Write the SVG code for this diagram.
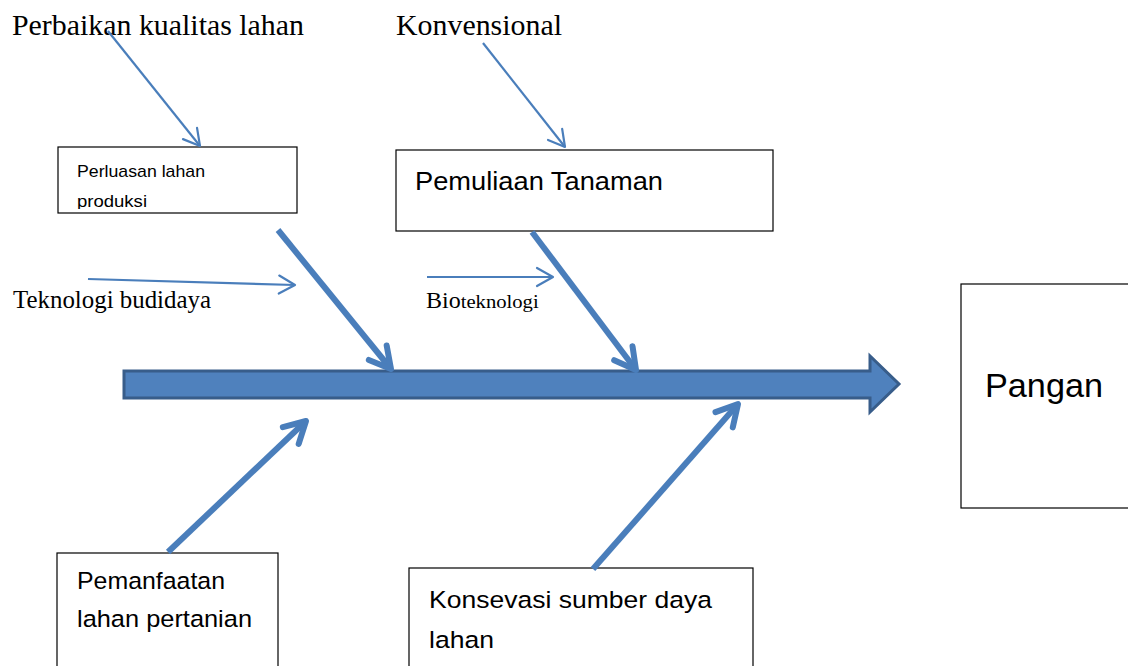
<svg xmlns="http://www.w3.org/2000/svg" width="1128" height="666" viewBox="0 0 1128 666">
  <style>
    .box { fill: #ffffff; stroke: #000000; stroke-width: 1.2; }
    .sans { font-family: "Liberation Sans", Arial, sans-serif; fill: #000000; }
    .serif { font-family: "Liberation Serif", "Times New Roman", serif; fill: #000000; }
    .thin { fill: none; stroke: #4A7EBB; stroke-width: 2.2; marker-end: url(#headThin); }
    .thick { fill: none; stroke: #4A7EBB; stroke-width: 6; marker-end: url(#headThick); }
    .spine { fill: #4F81BD; stroke: #385D8A; stroke-width: 3; stroke-linejoin: miter; }
  </style>
  <defs>
    <marker id="headThin" markerUnits="userSpaceOnUse" viewBox="-20 -12 24 24" markerWidth="24" markerHeight="24" refX="0" refY="0" orient="auto" overflow="visible">
      <path d="M-16,-9 L0,0 L-16,9" fill="none" stroke="#4A7EBB" stroke-width="2.2" stroke-linecap="round" stroke-linejoin="round"/>
    </marker>
    <marker id="headThick" markerUnits="userSpaceOnUse" viewBox="-26 -15 30 30" markerWidth="30" markerHeight="30" refX="0" refY="0" orient="auto" overflow="visible">
      <path d="M-21,-11.5 L0,0 L-21,11.5" fill="none" stroke="#4A7EBB" stroke-width="6" stroke-linecap="round" stroke-linejoin="round"/>
    </marker>
    <!-- second line of the small box is cut by the box edge -->
    <clipPath id="clipProduksi">
      <rect x="58" y="190" width="239" height="19"/>
    </clipPath>
  </defs>

  <rect width="1128" height="666" fill="#ffffff"/>

  <!-- spine arrow -->
  <g id="spine">
    <polygon class="spine" points="124,371 870,371 870,356 899,384 870,412 870,398 124,398"/>
  </g>

  <!-- free labels -->
  <g id="label-perbaikan">
    <text class="serif" x="12" y="35" font-size="29.5" textLength="292" lengthAdjust="spacingAndGlyphs">Perbaikan kualitas lahan</text>
  </g>
  <g id="label-konvensional">
    <text class="serif" x="396" y="35" font-size="29.5" textLength="166" lengthAdjust="spacingAndGlyphs">Konvensional</text>
  </g>
  <g id="label-teknologi">
    <text class="serif" x="13" y="308" font-size="24.5" textLength="198" lengthAdjust="spacingAndGlyphs">Teknologi budidaya</text>
  </g>
  <g id="label-bioteknologi">
    <text class="serif" x="426" y="308" font-size="24"><tspan>Bio</tspan><tspan font-size="19" textLength="78" lengthAdjust="spacingAndGlyphs">teknologi</tspan></text>
  </g>

  <!-- cause boxes -->
  <g id="node-perluasan">
    <rect class="box" x="58" y="147" width="239" height="66"/>
    <text class="sans" x="77" y="177" font-size="17" textLength="128" lengthAdjust="spacingAndGlyphs">Perluasan lahan</text>
    <text class="sans" x="77" y="207" font-size="17" textLength="70" lengthAdjust="spacingAndGlyphs" clip-path="url(#clipProduksi)">produksi</text>
  </g>
  <g id="node-pemuliaan">
    <rect class="box" x="396" y="150" width="377" height="81"/>
    <text class="sans" x="415" y="190" font-size="25" textLength="248" lengthAdjust="spacingAndGlyphs">Pemuliaan Tanaman</text>
  </g>
  <g id="node-pemanfaatan">
    <rect class="box" x="57" y="553" width="221" height="130"/>
    <text class="sans" x="77" y="589" font-size="24.5" textLength="148" lengthAdjust="spacingAndGlyphs">Pemanfaatan</text>
    <text class="sans" x="77" y="627" font-size="24.5" textLength="175" lengthAdjust="spacingAndGlyphs">lahan pertanian</text>
  </g>
  <g id="node-konsevasi">
    <rect class="box" x="409" y="568" width="344" height="120"/>
    <text class="sans" x="429" y="608" font-size="24.5" textLength="283" lengthAdjust="spacingAndGlyphs">Konsevasi sumber daya</text>
    <text class="sans" x="429" y="648" font-size="24.5" textLength="65" lengthAdjust="spacingAndGlyphs">lahan</text>
  </g>

  <!-- effect box -->
  <g id="node-pangan">
    <rect class="box" x="961" y="284" width="190" height="224"/>
    <text class="sans" x="985" y="397" font-size="34" textLength="118" lengthAdjust="spacingAndGlyphs">Pangan</text>
  </g>

  <!-- connectors -->
  <g id="connectors">
    <line class="thin" x1="108" y1="31" x2="200" y2="146"/>
    <line class="thin" x1="483" y1="43" x2="565" y2="147"/>
    <line class="thin" x1="88" y1="279" x2="295" y2="285"/>
    <line class="thin" x1="427" y1="277" x2="553" y2="277"/>
    <line class="thick" x1="278" y1="230" x2="391" y2="369"/>
    <line class="thick" x1="532" y1="232" x2="636" y2="370"/>
    <line class="thick" x1="168" y1="552" x2="306" y2="421"/>
    <line class="thick" x1="593" y1="569" x2="738" y2="404"/>
  </g>
</svg>
